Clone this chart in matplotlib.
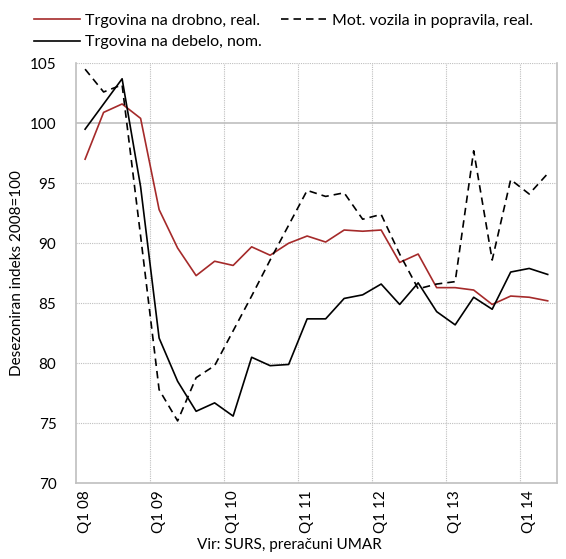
import numpy as np
import matplotlib
matplotlib.use('Agg')
import matplotlib.pyplot as plt

plt.rcParams['font.family'] = ['Lato', 'DejaVu Sans']

# quarters Q1 08 .. Q2 14
quarters = [f'Q{q} {y:02d}' for y in range(8, 15) for q in range(1, 5)][:26]
tick_labels = ['Q1 08', 'Q1 09', 'Q1 10', 'Q1 11', 'Q1 12', 'Q1 13', 'Q1 14']

# Trgovina na drobno, real.
drobno = [97.0, 100.9, 101.6, 100.4, 92.8, 89.6, 87.3, 88.5, 88.15, 89.7,
          89.0, 90.0, 90.6, 90.1, 91.1, 91.0, 91.1, 88.4, 89.1, 86.3,
          86.3, 86.1, 84.9, 85.6, 85.5, 85.2]
# Trgovina na debelo, nom.
debelo = [99.5, 101.6, 103.7, 94.7, 82.1, 78.5, 76.0, 76.7, 75.6, 80.5,
          79.8, 79.9, 83.7, 83.7, 85.4, 85.7, 86.6, 84.9, 86.7, 84.3,
          83.2, 85.5, 84.5, 87.6, 87.9, 87.4]
# Mot. vozila in popravila, real.
vozila = [104.5, 102.6, 103.2, 90.6, 77.8, 75.2, 78.8, 79.8, 82.7, 85.6,
          88.6, 91.5, 94.4, 93.9, 94.2, 92.0, 92.4, 89.1, 86.2, 86.6,
          86.8, 97.7, 88.6, 95.3, 94.1, 95.8]

x = np.arange(len(quarters))

fig = plt.figure(figsize=(5.66, 5.59), dpi=100)
ax = fig.add_axes([0.134, 0.1354, 0.850, 0.7516])

grid_c = '#BFBFBF'
ax.plot(x, drobno, color='#A52A2A', lw=1.2, label='Trgovina na drobno, real.', zorder=3)
ax.plot(x, debelo, color='black', lw=1.2, label='Trgovina na debelo, nom.', zorder=3)
ax.plot(x, vozila, color='black', lw=1.2, ls=(0, (4.5, 3)), label='Mot. vozila in popravila, real.', zorder=3)

ax.set_xlim(-0.5, len(quarters) - 0.5)
ax.set_ylim(70, 105)
ax.set_yticks(np.arange(70, 106, 5))
ax.set_xticks(x[::4])
ax.set_xticklabels(tick_labels, rotation=90)
ax.tick_params(axis='both', length=0, labelsize=11)
ax.tick_params(axis='y', pad=14)
ax.tick_params(axis='x', pad=5)

# horizontal grid
for v in range(75, 106, 5):
    if v == 100:
        ax.axhline(v, color=grid_c, lw=1.2, zorder=1)
    else:
        ax.axhline(v, color=grid_c, lw=0.8, ls=(0, (1, 1)), zorder=1)
# vertical grid between categories
for gx in np.arange(-0.5, len(quarters), 4)[1:]:
    ax.axvline(gx, color=grid_c, lw=0.8, ls=(0, (1, 1)), zorder=1)

for s in ('left', 'right', 'bottom'):
    ax.spines[s].set_color(grid_c)
    ax.spines[s].set_linewidth(1.2)
ax.spines['top'].set_visible(False)

ax.set_ylabel('Desezoniran indeks 2008=100', fontsize=11, labelpad=4)

fig.text(0.512, 0.012, 'Vir: SURS, preračuni UMAR', ha='center', va='bottom', fontsize=11)

h, l = ax.get_legend_handles_labels()
fig.legend(h, l, loc='upper left', bbox_to_anchor=(0.048, 0.987), ncol=2,
           frameon=False, fontsize=11.5, handlelength=2.9, handletextpad=0.35,
           columnspacing=1.15, labelspacing=0.45, borderaxespad=0)

fig.savefig('out.png', dpi=100)
